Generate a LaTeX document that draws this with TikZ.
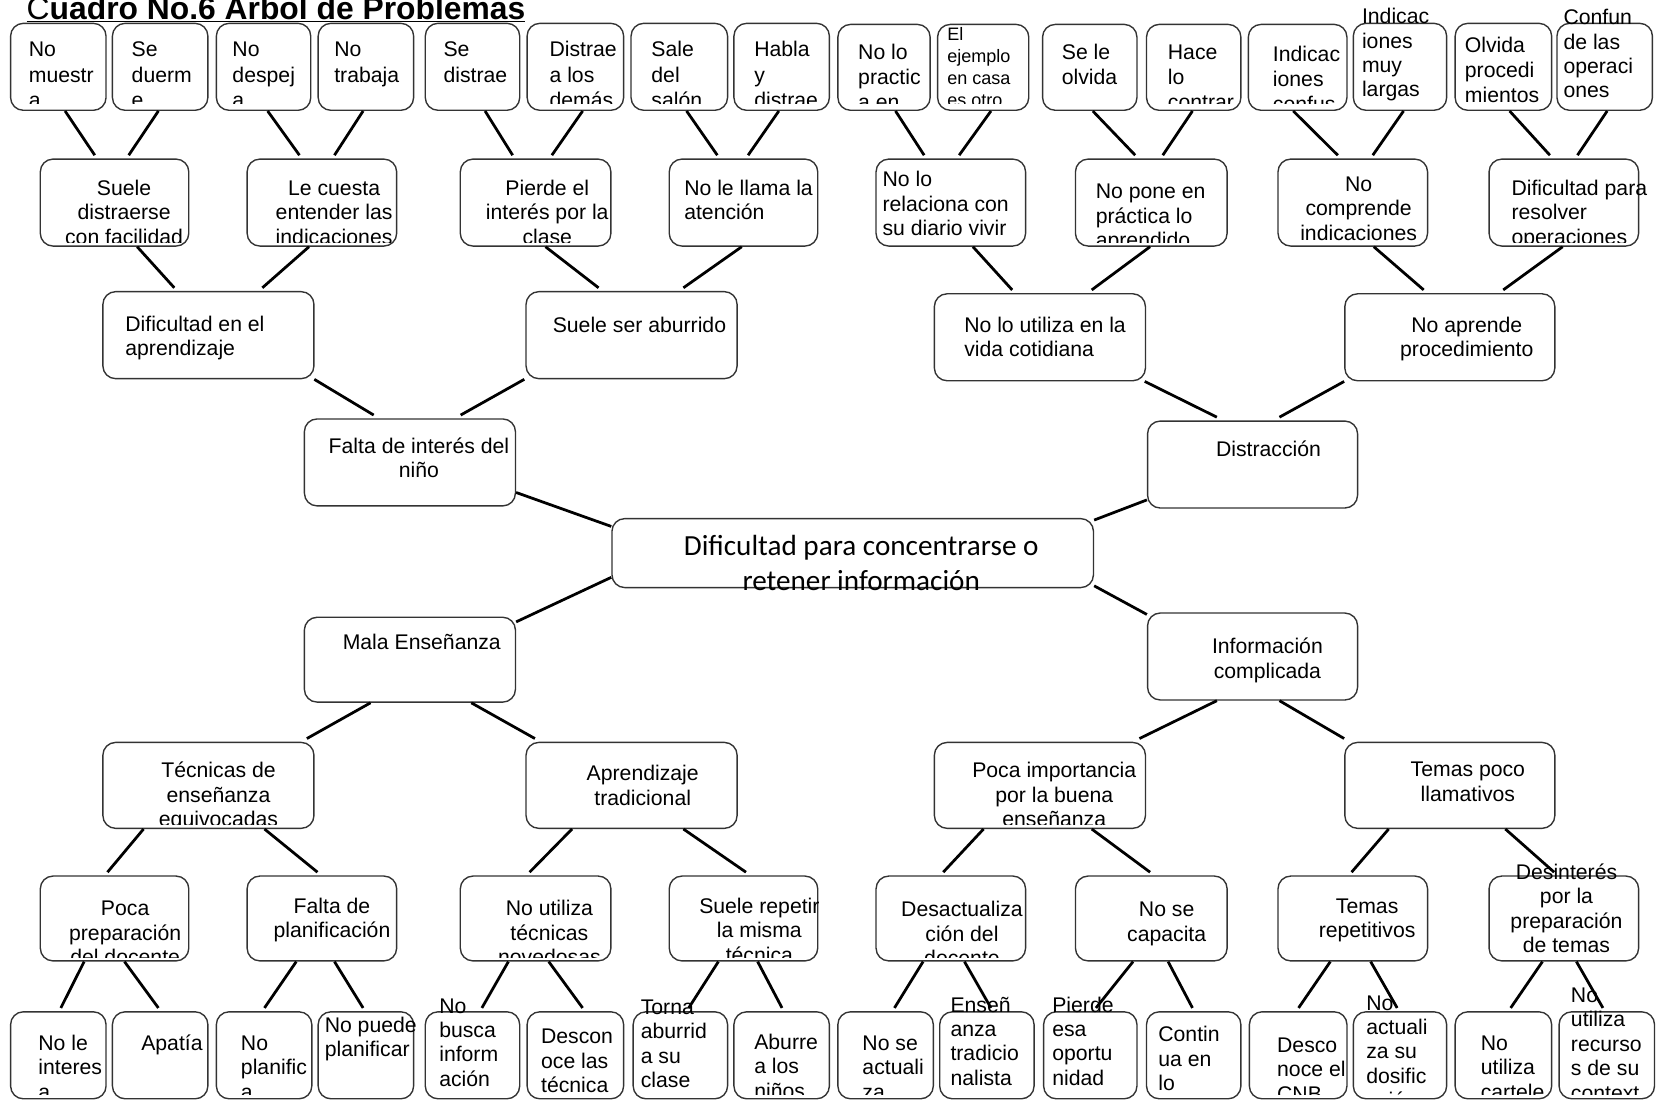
\documentclass[tikz,border=0pt]{standalone}
\usepackage{fontspec}
\setmainfont{Liberation Sans}
\newfontfamily\calfont{Carlito}
\usetikzlibrary{calc}
\tikzset{
 box/.style={draw=black!80, line width=1.3pt, rounded corners=12pt, inner sep=0pt},
 conn/.style={line width=2.6pt, draw=black},
 tl/.style={anchor=north west, align=left, inner sep=0pt, font=\fontsize{20}{23}\selectfont},
 tc/.style={anchor=north, align=center, inner sep=0pt, font=\fontsize{20}{23}\selectfont},
 wide/.style={font=\fontsize{20}{23.6}\selectfont},
 smallt/.style={font=\fontsize{17}{20.5}\selectfont},
}
\newcommand\myclipin{5}
\newcommand\bx[9]{%
 \node[box, minimum width={#4-#2}, minimum height={#5-#3}] (#1) at ({(#2+#4)/2},{(#3+#5)/2}) {};
 \begin{scope}
 \clip ({#2-90},{#3-90}) rectangle ({#4+90},{#5-\myclipin});
 \node[#8] (#1t) at ({#6},{#7-9}) {\strut #9};
 \end{scope}}
\newcommand\cdn[4]{\draw[conn] ($(#1.south west)+(#2,0)$) -- ($(#3.north west)+(#4,-3)$);}
\begin{document}
\begin{tikzpicture}[x=1pt,y=-1pt]
\useasboundingbox (0,0) rectangle (1568,1039);
\node[anchor=base west, inner sep=0pt, font=\fontsize{30}{34}\selectfont] (title) at (25,18) {\underline{C\textbf{uadro No.6 Arbol de Problemas}}};
% top leaves
\renewcommand\myclipin{6}
\bx{L1}{10}{22}{100}{104}{27}{46}{tl,wide}{No\\muestr\\a}
\bx{L2}{106}{22}{196}{104}{124}{46}{tl,wide}{Se\\duerm\\e}
\bx{L3}{204}{22}{293}{104}{219}{46}{tl,wide}{No\\despej\\a}
\bx{L4}{300}{22}{390}{104}{315}{46}{tl,wide}{No\\trabaja}
\bx{L5}{401}{22}{490}{104}{418}{46}{tl,wide}{Se\\distrae}
\bx{L6}{497}{22}{588}{104}{518}{46}{tl,wide}{Distrae\\a los\\demás}
\bx{L7}{595}{22}{686}{104}{614}{46}{tl,wide}{Sale\\del\\salón}
\bx{L8}{692}{22}{782}{104}{711}{46}{tl,wide}{Habla\\y\\distrae}
\bx{L9}{790}{23}{877}{104}{809}{48}{tl,wide}{No lo\\practic\\a en}
\bx{L10}{884}{23}{970}{104}{893}{33}{tl,smallt}{El\\ejemplo\\en casa\\es otro}
\bx{L11}{983}{23}{1072}{104}{1001}{48}{tl,wide}{Se le\\olvida}
\bx{L12}{1081}{23}{1170}{104}{1101}{48}{tl,wide}{Hace\\lo\\contrar}
\bx{L13}{1177}{23}{1270}{104}{1200}{50}{tl,wide}{Indicac\\iones\\confus}
\bx{L14}{1276}{22}{1364}{104}{1284}{15}{tl}{Indicac\\iones\\muy\\largas}
\bx{L15}{1372}{22}{1463}{104}{1381}{42}{tl,wide}{Olvida\\procedi\\mientos}
\bx{L16}{1468}{22}{1558}{104}{1474}{16}{tl}{Confun\\de las\\operaci\\ones}
% second row top
\renewcommand\myclipin{3.5}
\bx{M1}{38}{150}{178}{232}{117}{177}{tc}{Suele\\distraerse\\con facilidad}
\bx{M2}{233}{150}{374}{232}{315}{177}{tc}{Le cuesta\\entender las\\indicaciones}
\bx{M3}{434}{150}{576}{232}{516}{177}{tc}{Pierde el\\interés por la\\clase}
\bx{M4}{631}{150}{771}{232}{645}{177}{tl}{No le llama la\\atención}
\bx{M5}{826}{150}{967}{232}{832}{169}{tl}{No lo\\relaciona con\\su diario vivir}
\bx{M6}{1014}{150}{1157}{232}{1033}{180}{tl}{No pone en\\práctica lo\\aprendido}
\bx{M7}{1205}{150}{1346}{232}{1281}{173}{tc}{No\\comprende\\indicaciones}
\bx{M8}{1404}{150}{1545}{232}{1425}{177}{tl}{Dificultad para\\resolver\\operaciones}
% third row top
\bx{A1}{97}{275}{296}{357}{118}{305}{tl}{Dificultad en el\\aprendizaje}
\bx{A2}{496}{275}{695}{357}{521}{306}{tl}{Suele ser aburrido}
\bx{A3}{881}{277}{1080}{359}{909}{306}{tl}{No lo utiliza en la\\vida cotidiana}
\bx{A4}{1268}{277}{1466}{359}{1383}{306}{tc}{No aprende\\procedimiento}
% fourth row
\bx{B1}{287}{395}{486}{477}{395}{420}{tc}{Falta de interés del\\niño}
\bx{B2}{1082}{397}{1280}{479}{1196}{423}{tc}{Distracción}
% center
\node[box, minimum width=454, minimum height=65] (C) at (804,521.5) {};
\node[anchor=north, align=center, inner sep=0pt, font=\calfont\fontsize{27.5}{33}\selectfont] (Ct) at (812,500.8) {\strut Dificultad para concentrarse o\\retener información};
% bottom half
\bx{B3}{287}{582}{486}{662}{323}{605}{tl}{Mala Enseñanza}
\bx{B4}{1082}{578}{1280}{660}{1195}{609}{tc}{Información\\complicada}
\bx{A5}{97}{700}{296}{781}{206}{726}{tc}{Técnicas de\\enseñanza\\equivocadas}
\bx{A6}{496}{700}{695}{781}{606}{729}{tc}{Aprendizaje\\tradicional}
\bx{A7}{881}{700}{1080}{781}{994}{726}{tc}{Poca importancia\\por la buena\\enseñanza}
\bx{A8}{1268}{700}{1466}{781}{1384}{725}{tc}{Temas poco\\llamativos}
\bx{M9}{38}{826}{178}{906}{118}{856}{tc}{Poca\\preparación\\del docente}
\bx{M10}{233}{826}{374}{906}{313}{854}{tc}{Falta de\\planificación}
\bx{M11}{434}{826}{576}{906}{518}{856}{tc}{No utiliza\\técnicas\\novedosas}
\bx{M12}{631}{826}{771}{906}{716}{854}{tc}{Suele repetir\\la misma\\técnica}
\bx{M13}{826}{826}{967}{906}{907}{857}{tc}{Desactualiza\\ción del\\docente}
\bx{M14}{1014}{826}{1157}{906}{1100}{857}{tc}{No se\\capacita}
\bx{M15}{1205}{826}{1346}{906}{1289}{854}{tc}{Temas\\repetitivos}
\bx{M16}{1404}{826}{1545}{906}{1477}{822}{tc}{Desinterés\\por la\\preparación\\de temas}
\renewcommand\myclipin{4}
\bx{N1}{10}{954}{100}{1036}{36}{983}{tl}{No le\\interes\\a}
\bx{N2}{106}{954}{196}{1036}{133}{983}{tl}{Apatía}
\bx{N3}{204}{954}{294}{1036}{227}{983}{tl}{No\\planific\\a}
\bx{N4}{300}{954}{390}{1036}{306}{966}{tl}{No puede\\planificar}
\bx{N5}{401}{954}{490}{1036}{414}{948}{tl}{No\\busca\\inform\\ación}
\bx{N6}{497}{954}{588}{1036}{510}{977}{tl}{Descon\\oce las\\técnica}
\bx{N7}{597}{954}{686}{1036}{604}{949}{tl}{Torna\\aburrid\\a su\\clase}
\bx{N8}{692}{954}{782}{1036}{711}{982}{tl}{Aburre\\a los\\niños}
\bx{N9}{790}{954}{880}{1036}{813}{983}{tl}{No se\\actuali\\za}
\bx{N10}{886}{954}{975}{1036}{896}{947}{tl}{Enseñ\\anza\\tradicio\\nalista}
\bx{N11}{984}{954}{1072}{1036}{992}{947}{tl}{Pierde\\esa\\oportu\\nidad}
\bx{N12}{1081}{954}{1170}{1036}{1092}{975}{tl}{Contin\\ua en\\lo}
\bx{N13}{1178}{954}{1270}{1036}{1204}{985}{tl}{Desco\\noce el\\CNB}
\bx{N14}{1276}{954}{1364}{1036}{1288}{945}{tl}{No\\actuali\\za su\\dosific\\ación}
\bx{N15}{1372}{954}{1463}{1036}{1396}{983}{tl}{No\\utiliza\\cartele}
\bx{N16}{1470}{954}{1560}{1036}{1481}{938}{tl}{No\\utiliza\\recurso\\s de su\\context}
% connectors top half
\cdn{L1}{52}{M1}{52}
\cdn{L2}{44}{M1}{84}
\cdn{L3}{49}{M2}{50}
\cdn{L4}{43}{M2}{83}
\cdn{L5}{57}{M3}{50}
\cdn{L6}{53}{M3}{87}
\cdn{L7}{53}{M4}{46}
\cdn{L8}{43}{M4}{75}
\cdn{L9}{55}{M5}{46}
\cdn{L10}{51}{M5}{79}
\cdn{L11}{48}{M6}{57}
\cdn{L12}{44}{M6}{83}
\cdn{L13}{43}{M7}{57}
\cdn{L14}{48}{M7}{90}
\cdn{L15}{52}{M8}{58}
\cdn{L16}{48}{M8}{84}
\cdn{M1}{92}{A1}{68}
\cdn{M2}{59}{A1}{151}
\cdn{M3}{81}{A2}{69}
\cdn{M4}{69}{A2}{149}
\cdn{M5}{92}{A3}{74}
\cdn{M6}{71}{A3}{149}
\cdn{M7}{91}{A4}{75}
\cdn{M8}{70}{A4}{150}
\cdn{A1}{200}{B1}{66}
\cdn{A2}{-1}{B1}{148}
\cdn{A3}{199}{B2}{66}
\cdn{A4}{0}{B2}{125}
% center links
\draw[conn] ($(B1.north east)+(0,70)$) -- ($(C.north west)+(0,8)$);
\draw[conn] ($(B2.north west)+(0,75)$) -- ($(C.north east)+(0,2)$);
\draw[conn] ($(C.north west)+(0,56)$) -- ($(B3.north east)+(0,5)$);
\draw[conn] ($(C.north east)+(0,64)$) -- ($(B4.north west)+(0,2)$);
% bottom half
\cdn{B3}{63}{A5}{193}
\cdn{B3}{158}{A6}{9}
\cdn{B4}{66}{A7}{194}
\cdn{B4}{125}{A8}{0}
\cdn{A5}{39}{M9}{64}
\cdn{A5}{153}{M10}{67}
\cdn{A6}{44}{M11}{66}
\cdn{A6}{149}{M12}{73}
\cdn{A7}{47}{M13}{64}
\cdn{A7}{149}{M14}{71}
\cdn{A8}{42}{M15}{70}
\cdn{A8}{152}{M16}{62}
\cdn{M9}{42}{N1}{48}
\cdn{M9}{80}{N2}{44}
\cdn{M10}{47}{N3}{46}
\cdn{M10}{83}{N4}{43}
\cdn{M11}{46}{N5}{54}
\cdn{M11}{84}{N6}{53}
\cdn{M12}{47}{N7}{53}
\cdn{M12}{84}{N8}{46}
\cdn{M13}{45}{N9}{54}
\cdn{M13}{84}{N10}{49}
\cdn{M14}{55}{N11}{50}
\cdn{M14}{88}{N12}{44}
\cdn{M15}{50}{N13}{47}
\cdn{M15}{88}{N14}{42}
\cdn{M16}{51}{N15}{53}
\cdn{M16}{83}{N16}{42}
\end{tikzpicture}
\end{document}
